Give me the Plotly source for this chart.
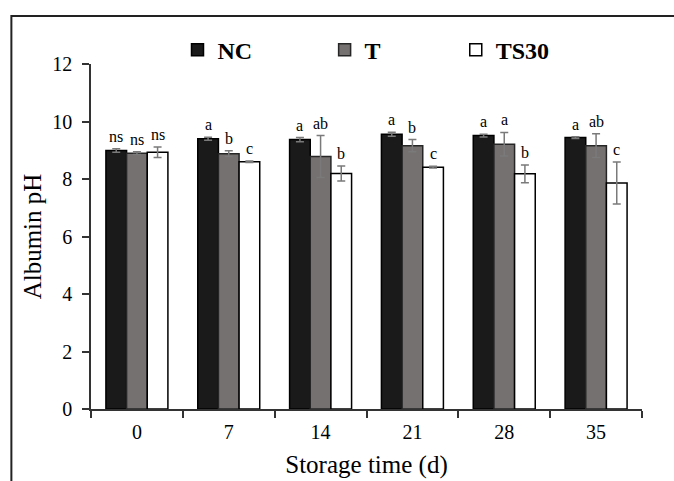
import plotly.graph_objects as go

days = ["0", "7", "14", "21", "28", "35"]
series_names = ["NC", "T", "TS30"]

nc_vals = [8.99, 9.40, 9.37, 9.56, 9.51, 9.44]
nc_err = [0.06, 0.05, 0.07, 0.07, 0.05, 0.03]
t_vals = [8.90, 8.88, 8.78, 9.16, 9.21, 9.16]
t_err = [0.05, 0.10, 0.73, 0.21, 0.41, 0.41]
ts_vals = [8.93, 8.60, 8.19, 8.41, 8.18, 7.86]
ts_err = [0.18, 0.03, 0.26, 0.03, 0.31, 0.73]

nc_letters = ["ns", "a", "a", "a", "a", "a"]
t_letters = ["ns", "b", "ab", "b", "a", "ab"]
ts_letters = ["ns", "c", "b", "c", "b", "c"]

FONT = "Liberation Serif, Times New Roman, serif"
BARGAP = 0.325

vals = [nc_vals, t_vals, ts_vals]
errs = [nc_err, t_err, ts_err]
letters = [nc_letters, t_letters, ts_letters]
fills = ["#1a1a1a", "#767171", "#ffffff"]
lines = ["#000000", "#262626", "#000000"]
legend_ids = ["legend", "legend2", "legend3"]

fig = go.Figure()
for i in range(3):
    fig.add_trace(go.Bar(
        name=series_names[i], x=days, y=vals[i],
        marker=dict(color=fills[i], line=dict(color=lines[i], width=1.5)),
        error_y=dict(type="data", array=errs[i], visible=True,
                     color="#7a7a7a", thickness=1.5, width=4),
        legend=legend_ids[i], showlegend=True,
    ))

# significance letters above error bars
w = (1 - BARGAP) / 3
annotations = []
for i in range(3):
    for j in range(len(days)):
        annotations.append(dict(
            x=j + (i - 1) * w, y=vals[i][j] + errs[i][j], xref="x", yref="y",
            text=letters[i][j], showarrow=False, yanchor="bottom", yshift=2,
            font=dict(family=FONT, size=16, color="#000000"),
        ))


def leg(x):
    return dict(orientation="h", yanchor="middle", y=1.0405, xanchor="left", x=x,
                font=dict(family=FONT, size=24, color="#000000", weight="bold"),
                bgcolor="rgba(0,0,0,0)", borderwidth=0, visible=True)


fig.update_layout(
    width=674, height=481,
    margin=dict(l=90.7, r=31.7, t=64, b=71.7, autoexpand=False),
    paper_bgcolor="white", plot_bgcolor="white",
    barmode="group", bargap=BARGAP, bargroupgap=0,
    font=dict(family=FONT, color="#000000"),
    showlegend=True,
    annotations=annotations,
    legend=leg(0.157),
    legend2=leg(0.424),
    legend3=leg(0.662),
    xaxis=dict(
        type="category", showline=True, linecolor="#333333", linewidth=1.5,
        ticks="outside", tickson="boundaries", ticklen=7, tickwidth=1.5, tickcolor="#333333",
        tickfont=dict(family=FONT, size=20, color="#000000"), ticklabelstandoff=4,
        title=dict(text="Storage time (d)", font=dict(family=FONT, size=25, color="#000000"), standoff=14),
        showgrid=False, zeroline=False, automargin=False,
    ),
    yaxis=dict(
        range=[0, 12], tickvals=[0, 2, 4, 6, 8, 10, 12],
        showline=True, linecolor="#333333", linewidth=1.5,
        ticks="outside", ticklen=7, tickwidth=1.5, tickcolor="#333333",
        tickfont=dict(family=FONT, size=20, color="#000000"), ticklabelstandoff=6,
        title=dict(text="Albumin pH", font=dict(family=FONT, size=25, color="#000000"), standoff=4),
        showgrid=False, zeroline=False, automargin=False,
    ),
    shapes=[dict(type="rect", xref="paper", yref="paper",
                 x0=-0.1445, x1=1.2, y0=-0.4, y1=1.139,
                 line=dict(color="#222222", width=2), fillcolor="rgba(0,0,0,0)", layer="below")],
)

fig.write_html("out.html")
